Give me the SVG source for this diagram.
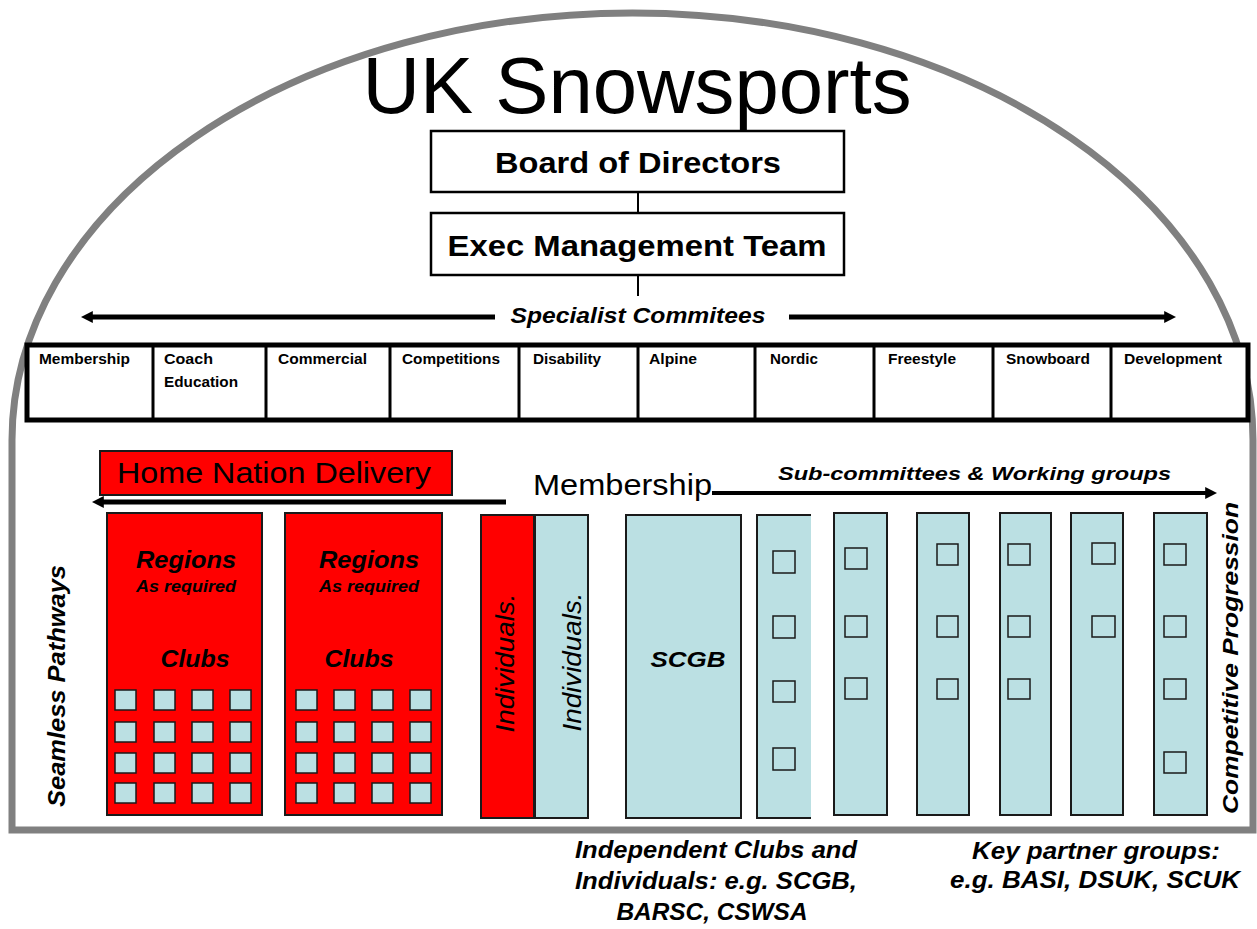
<svg xmlns="http://www.w3.org/2000/svg" width="1257" height="929" viewBox="0 0 1257 929">
  <defs>
    <style>
      .frame { fill: none; stroke: #808080; stroke-width: 7; }
      .box { fill: #ffffff; stroke: #000000; stroke-width: 2.5; }
      .grid { fill: none; stroke: #000000; stroke-width: 3; }
      .red { fill: #ff0000; stroke: #1a1a1a; stroke-width: 2; }
      .blue { fill: #bbe0e3; stroke: #1a1a1a; stroke-width: 2; }
      .club { fill: #bbe0e3; stroke: #1a1a1a; stroke-width: 1.5; }
      .cell { fill: none; stroke: #1a1a1a; stroke-width: 1.5; }
      .link { stroke: #000000; stroke-width: 2; fill: none; }
      .arrow { stroke: #000000; fill: none; }
      text { font-family: "Liberation Sans", Arial, sans-serif; fill: #000000; }
      .bold { font-weight: bold; }
      .bi { font-weight: bold; font-style: italic; }
      .it { font-style: italic; }
      .tiny { font-size: 15px; font-weight: bold; }
    </style>
    <marker id="head" viewBox="0 0 10 10" refX="4" refY="5" markerWidth="12" markerHeight="12" markerUnits="userSpaceOnUse" orient="auto">
      <path d="M0,0 L10,5 L0,10 Z" fill="#000000"/>
    </marker>
  </defs>

  <rect width="1257" height="929" fill="#ffffff"/>

  <!-- arched outline of the organisation -->
  <path class="frame" d="M12,830 L12,440 A620.5,427 0 0 1 1253,440 L1253,830 Z"/>

  <!-- title -->
  <g id="title">
    <text x="637" y="113" font-size="80" text-anchor="middle" textLength="549" lengthAdjust="spacingAndGlyphs">UK Snowsports</text>
  </g>

  <g id="board">
    <rect class="box" x="431" y="131" width="413" height="61"/>
    <text class="bold" x="638" y="173" font-size="30" text-anchor="middle" textLength="286" lengthAdjust="spacingAndGlyphs">Board of Directors</text>
  </g>

  <g id="exec">
    <rect class="box" x="431" y="213" width="413" height="62"/>
    <text class="bold" x="637" y="256" font-size="30" text-anchor="middle" textLength="379" lengthAdjust="spacingAndGlyphs">Exec Management Team</text>
  </g>

  <!-- specialist committees table -->
  <g id="committees">
    <rect x="27" y="345" width="1221" height="75" fill="#ffffff" stroke="#000000" stroke-width="5"/>
    <path class="grid" d="M153,345V420 M266,345V420 M390,345V420 M519,345V420 M638,345V420 M755,345V420 M874,345V420 M993,345V420 M1111,345V420"/>
    <text class="tiny" x="39" y="364" textLength="91" lengthAdjust="spacingAndGlyphs">Membership</text>
    <text class="tiny" x="164" y="364" textLength="49" lengthAdjust="spacingAndGlyphs">Coach</text>
    <text class="tiny" x="164" y="387" textLength="74" lengthAdjust="spacingAndGlyphs">Education</text>
    <text class="tiny" x="278" y="364" textLength="89" lengthAdjust="spacingAndGlyphs">Commercial</text>
    <text class="tiny" x="402" y="364" textLength="98" lengthAdjust="spacingAndGlyphs">Competitions</text>
    <text class="tiny" x="533" y="364" textLength="68" lengthAdjust="spacingAndGlyphs">Disability</text>
    <text class="tiny" x="649" y="364" textLength="48" lengthAdjust="spacingAndGlyphs">Alpine</text>
    <text class="tiny" x="770" y="364" textLength="48" lengthAdjust="spacingAndGlyphs">Nordic</text>
    <text class="tiny" x="888" y="364" textLength="68" lengthAdjust="spacingAndGlyphs">Freestyle</text>
    <text class="tiny" x="1006" y="364" textLength="84" lengthAdjust="spacingAndGlyphs">Snowboard</text>
    <text class="tiny" x="1124" y="364" textLength="98" lengthAdjust="spacingAndGlyphs">Development</text>
  </g>

  <g id="specialist-label">
    <text class="bi" x="638" y="323" font-size="22" text-anchor="middle" textLength="255" lengthAdjust="spacingAndGlyphs">Specialist Commitees</text>
  </g>

  <g id="home-nation">
    <rect x="100" y="451" width="352" height="44" fill="#ff0000" stroke="#1a1a1a" stroke-width="2"/>
    <text x="117" y="483" font-size="29" textLength="314" lengthAdjust="spacingAndGlyphs">Home Nation Delivery</text>
  </g>

  <g id="membership-label">
    <text x="533" y="495" font-size="29" textLength="179" lengthAdjust="spacingAndGlyphs">Membership</text>
  </g>

  <g id="subcommittees-label">
    <text class="bi" x="778" y="480" font-size="19" textLength="393" lengthAdjust="spacingAndGlyphs">Sub-committees &amp; Working groups</text>
  </g>

  <!-- connectors -->
  <g id="connectors">
    <line class="link" x1="638" y1="192" x2="638" y2="213"/>
    <line class="link" x1="638" y1="275" x2="638" y2="296"/>
    <line class="arrow" stroke-width="5" x1="495" y1="317" x2="88" y2="317" marker-end="url(#head)"/>
    <line class="arrow" stroke-width="5" x1="789" y1="317" x2="1169" y2="317" marker-end="url(#head)"/>
    <line class="arrow" stroke-width="5" x1="506" y1="502" x2="99" y2="502" marker-end="url(#head)"/>
    <line class="arrow" stroke-width="4" x1="712" y1="493" x2="1210" y2="493" marker-end="url(#head)"/>
  </g>

  <!-- home nation regions -->
  <g id="region-1">
    <rect class="red" x="107" y="513" width="155" height="302"/>
    <text class="bi" x="186" y="568" font-size="23" text-anchor="middle" textLength="100" lengthAdjust="spacingAndGlyphs">Regions</text>
    <text class="bi" x="186" y="592" font-size="16" text-anchor="middle" textLength="100" lengthAdjust="spacingAndGlyphs">As required</text>
    <text class="bi" x="195" y="667" font-size="24" text-anchor="middle" textLength="69" lengthAdjust="spacingAndGlyphs">Clubs</text>
    <g>
      <rect class="club" x="115" y="690" width="21" height="20"/><rect class="club" x="154" y="690" width="21" height="20"/><rect class="club" x="192" y="690" width="21" height="20"/><rect class="club" x="230" y="690" width="21" height="20"/>
      <rect class="club" x="115" y="722" width="21" height="20"/><rect class="club" x="154" y="722" width="21" height="20"/><rect class="club" x="192" y="722" width="21" height="20"/><rect class="club" x="230" y="722" width="21" height="20"/>
      <rect class="club" x="115" y="753" width="21" height="20"/><rect class="club" x="154" y="753" width="21" height="20"/><rect class="club" x="192" y="753" width="21" height="20"/><rect class="club" x="230" y="753" width="21" height="20"/>
      <rect class="club" x="115" y="783" width="21" height="20"/><rect class="club" x="154" y="783" width="21" height="20"/><rect class="club" x="192" y="783" width="21" height="20"/><rect class="club" x="230" y="783" width="21" height="20"/>
    </g>
  </g>

  <g id="region-2">
    <rect class="red" x="285" y="513" width="157" height="302"/>
    <text class="bi" x="369" y="568" font-size="23" text-anchor="middle" textLength="100" lengthAdjust="spacingAndGlyphs">Regions</text>
    <text class="bi" x="369" y="592" font-size="16" text-anchor="middle" textLength="100" lengthAdjust="spacingAndGlyphs">As required</text>
    <text class="bi" x="359" y="667" font-size="24" text-anchor="middle" textLength="69" lengthAdjust="spacingAndGlyphs">Clubs</text>
    <g>
      <rect class="club" x="296" y="690" width="21" height="20"/><rect class="club" x="334" y="690" width="21" height="20"/><rect class="club" x="372" y="690" width="21" height="20"/><rect class="club" x="410" y="690" width="21" height="20"/>
      <rect class="club" x="296" y="722" width="21" height="20"/><rect class="club" x="334" y="722" width="21" height="20"/><rect class="club" x="372" y="722" width="21" height="20"/><rect class="club" x="410" y="722" width="21" height="20"/>
      <rect class="club" x="296" y="753" width="21" height="20"/><rect class="club" x="334" y="753" width="21" height="20"/><rect class="club" x="372" y="753" width="21" height="20"/><rect class="club" x="410" y="753" width="21" height="20"/>
      <rect class="club" x="296" y="783" width="21" height="20"/><rect class="club" x="334" y="783" width="21" height="20"/><rect class="club" x="372" y="783" width="21" height="20"/><rect class="club" x="410" y="783" width="21" height="20"/>
    </g>
  </g>

  <g id="individuals-home">
    <rect class="red" x="481" y="515" width="53" height="303"/>
    <text class="it" transform="translate(514,663) rotate(-90)" font-size="25" text-anchor="middle" textLength="139" lengthAdjust="spacingAndGlyphs">Individuals.</text>
  </g>

  <g id="individuals-membership">
    <rect class="blue" x="535" y="515" width="53" height="303"/>
    <text class="it" transform="translate(581,662) rotate(-90)" font-size="25" text-anchor="middle" textLength="139" lengthAdjust="spacingAndGlyphs">Individuals.</text>
  </g>

  <g id="scgb">
    <rect class="blue" x="626" y="515" width="115" height="303"/>
    <text class="bi" x="688" y="667" font-size="22" text-anchor="middle" textLength="75" lengthAdjust="spacingAndGlyphs">SCGB</text>
  </g>

  <!-- sub-committee / working group columns -->
  <g id="group-1">
    <rect x="757" y="515" width="54" height="303" fill="#bbe0e3"/>
    <path d="M811,515 H757 V818 H811" fill="none" stroke="#1a1a1a" stroke-width="2"/>
    <rect class="cell" x="773" y="551" width="22" height="22"/>
    <rect class="cell" x="773" y="616" width="22" height="22"/>
    <rect class="cell" x="773" y="681" width="22" height="21"/>
    <rect class="cell" x="773" y="748" width="22" height="22"/>
  </g>

  <g id="group-2">
    <rect class="blue" x="834" y="513" width="53" height="302"/>
    <rect class="cell" x="845" y="548" width="22" height="21"/>
    <rect class="cell" x="845" y="616" width="22" height="21"/>
    <rect class="cell" x="845" y="678" width="22" height="21"/>
  </g>

  <g id="group-3">
    <rect class="blue" x="917" y="513" width="52" height="302"/>
    <rect class="cell" x="937" y="544" width="21" height="21"/>
    <rect class="cell" x="937" y="616" width="21" height="21"/>
    <rect class="cell" x="937" y="679" width="21" height="20"/>
  </g>

  <g id="group-4">
    <rect class="blue" x="1000" y="513" width="51" height="302"/>
    <rect class="cell" x="1008" y="544" width="22" height="21"/>
    <rect class="cell" x="1008" y="616" width="22" height="21"/>
    <rect class="cell" x="1008" y="679" width="22" height="20"/>
  </g>

  <g id="group-5">
    <rect class="blue" x="1071" y="513" width="52" height="302"/>
    <rect class="cell" x="1092" y="543" width="23" height="21"/>
    <rect class="cell" x="1092" y="616" width="23" height="21"/>
  </g>

  <g id="group-6">
    <rect class="blue" x="1154" y="513" width="53" height="302"/>
    <rect class="cell" x="1164" y="544" width="22" height="21"/>
    <rect class="cell" x="1164" y="616" width="22" height="21"/>
    <rect class="cell" x="1164" y="679" width="22" height="20"/>
    <rect class="cell" x="1164" y="752" width="22" height="21"/>
  </g>

  <!-- side labels -->
  <g id="seamless-pathways">
    <text class="bi" transform="translate(65,686) rotate(-90)" font-size="23" text-anchor="middle" textLength="242" lengthAdjust="spacingAndGlyphs">Seamless Pathways</text>
  </g>

  <g id="competitive-progression">
    <text class="bi" transform="translate(1238,658) rotate(-90)" font-size="22" text-anchor="middle" textLength="312" lengthAdjust="spacingAndGlyphs">Competitive Progression</text>
  </g>

  <!-- captions below the frame -->
  <g id="independent-caption">
    <text class="bi" x="716" y="858" font-size="24" text-anchor="middle" textLength="282" lengthAdjust="spacingAndGlyphs">Independent Clubs and</text>
    <text class="bi" x="716" y="889" font-size="24" text-anchor="middle" textLength="282" lengthAdjust="spacingAndGlyphs">Individuals: e.g. SCGB,</text>
    <text class="bi" x="712" y="920" font-size="24" text-anchor="middle" textLength="191" lengthAdjust="spacingAndGlyphs">BARSC, CSWSA</text>
  </g>

  <g id="partner-caption">
    <text class="bi" x="1096" y="859" font-size="24" text-anchor="middle" textLength="248" lengthAdjust="spacingAndGlyphs">Key partner groups:</text>
    <text class="bi" x="1095" y="888" font-size="24" text-anchor="middle" textLength="290" lengthAdjust="spacingAndGlyphs">e.g. BASI, DSUK, SCUK</text>
  </g>
</svg>
